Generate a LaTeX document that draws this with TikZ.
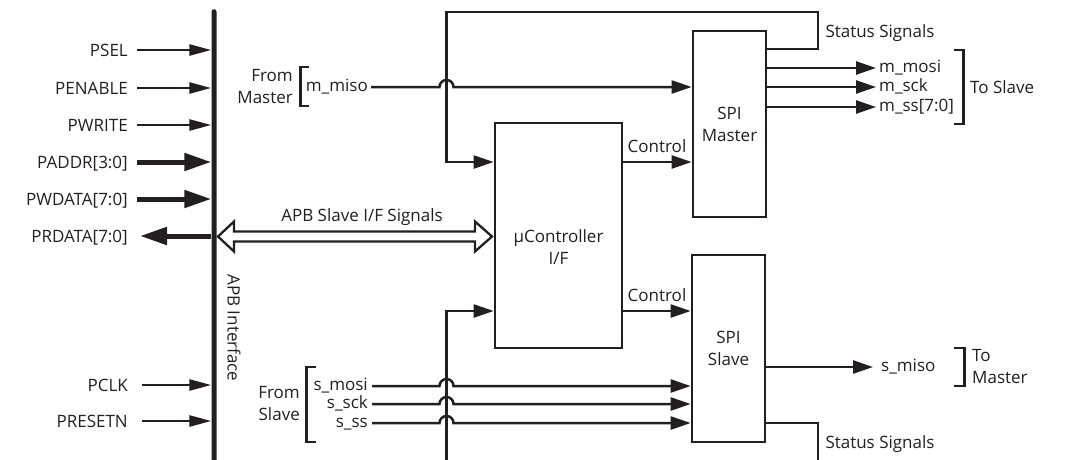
\documentclass[tikz,border=0pt]{standalone}
\usepackage{fontspec}
\setmainfont{Open Sans}
\usetikzlibrary{arrows.meta,calc}
\definecolor{ink}{RGB}{35,31,32}
\begin{document}
\begin{tikzpicture}[x=1pt,y=1pt,
  every node/.style={font=\fontsize{17}{22}\selectfont, text=ink, inner sep=0pt},
  capl/.style={text height=12pt, text depth=0pt},
  lowl/.style={text height=9pt, text depth=0pt},
  wire/.style={draw=ink, line width=2.5pt},
  arr/.style={wire, -{Triangle[length=20pt,width=13pt]}},
  thinarr/.style={draw=ink, line width=2.7pt, -{Triangle[length=22pt,width=11pt]}},
  thickarr/.style={draw=ink, line width=5pt, -{Triangle[length=27pt,width=17pt]}},
  blk/.style={draw=ink, line width=2.7pt},
  brk/.style={draw=ink, line width=2.5pt}]
\useasboundingbox (0,0) rectangle (1065,-459);

% APB bus
\node[fill=ink, minimum width=5pt, minimum height=470pt, anchor=north, rounded corners=2.5pt] (bus) at (214,-9) {};
\node[capl, rotate=-90] (apbif) at (233.5,-328) {APB Interface};

% left signals
\node[capl, anchor=east] (psel) at (128,-50) {PSEL};
\node[capl, anchor=east] (penable) at (128,-88) {PENABLE};
\node[capl, anchor=east] (pwrite) at (128,-125) {PWRITE};
\node[capl, anchor=east] (paddr) at (128,-162) {PADDR[3:0]};
\node[capl, anchor=east] (pwdata) at (128,-199) {PWDATA[7:0]};
\node[capl, anchor=east] (prdata) at (128,-236) {PRDATA[7:0]};
\node[capl, anchor=east] (pclk) at (128,-385) {PCLK};
\node[capl, anchor=east] (presetn) at (128,-421) {PRESETN};

\draw[thinarr, shorten <=9pt] (psel.east) -- (psel.east -| bus.west);
\draw[thinarr, shorten <=9pt] (penable.east) -- (penable.east -| bus.west);
\draw[thinarr, shorten <=9pt] (pwrite.east) -- (pwrite.east -| bus.west);
\draw[thickarr, shorten <=9pt] (paddr.east) -- (paddr.east -| bus.west);
\draw[thickarr, shorten <=9pt] (pwdata.east) -- (pwdata.east -| bus.west);
\draw[thickarr, shorten >=12pt] (prdata.east -| bus.west) -- (prdata.east);
\draw[thinarr, shorten <=14pt] (pclk.east) -- (pclk.east -| bus.west);
\draw[thinarr, shorten <=14pt] (presetn.east) -- (presetn.east -| bus.west);

% blocks
\node[blk, minimum width=127pt, minimum height=225pt] (uc) at (558.5,-235.5) {};
\node[align=center] (uctext) at (558.5,-247) {µController\\I/F};
\node[blk, minimum width=73pt, minimum height=186pt] (spim) at (729.5,-124) {};
\node[align=center] (spimtext) at (spim.center) {SPI\\Master};
\node[blk, minimum width=73pt, minimum height=187pt] (spis) at (728.5,-348.5) {};
\node[align=center] (spistext) at (spis.center) {SPI\\Slave};

% hollow APB slave arrow
\draw[draw=ink, line width=2.3pt, fill=white, line join=miter]
  (218,-236.5) -- (234,-221.5) -- (234,-231.5) -- (475,-231.5) -- (475,-221.5)
  -- (492,-236.5) -- (475,-251.5) -- (475,-241.5) -- (234,-241.5) -- (234,-251.5) -- cycle;
\node[capl] (apbsig) at (362,-215) {APB Slave I/F Signals};

% control
\draw[arr] (uc.east |- 0,-162) -- (spim.west |- 0,-162);
\node[capl] (ctrl1) at (657,-146) {Control};
\draw[arr] (uc.east |- 0,-311) -- (spis.west |- 0,-311);
\node[capl] (ctrl2) at (657,-295) {Control};

% status feedback (top)
\draw[arr] (spim.east |- 0,-49) -- (818,-49) -- (818,-12) -- (446.5,-12) -- (446.5,-162) -- (uc.west |- 0,-162);
\node[capl] (stat1) at (880,-31) {Status Signals};

% master input
\node[lowl, anchor=east] (mmiso) at (368,-87) {m\_miso};
\draw[arr, shorten <=3pt] (mmiso.east) -- (439.5,-87) arc[start angle=180,end angle=0,radius=7] -- (spim.west |- mmiso.east);
\node[align=right, anchor=east] (frommaster) at (293,-87) {From\\Master};
\draw[brk] (309,-67) -- (300.5,-67) -- (300.5,-106) -- (309,-106);

% master outputs
\node[lowl, anchor=west] (mmosi) at (879,-68) {m\_mosi};
\node[lowl, anchor=west] (msck) at (879,-87) {m\_sck};
\node[lowl, anchor=west] (mss) at (879,-107) {m\_ss[7:0]};
\draw[arr, shorten >=3pt] (spim.east |- mmosi.west) -- (mmosi.west);
\draw[arr, shorten >=3pt] (spim.east |- msck.west) -- (msck.west);
\draw[arr, shorten >=3pt] (spim.east |- mss.west) -- (mss.west);
\draw[brk] (954,-50) -- (963.5,-50) -- (963.5,-124) -- (954,-124);
\node[capl, anchor=west] (toslave) at (970,-87) {To Slave};

% slave side feedback
\draw[arr] (446.5,-470) -- (446.5,-311) -- (uc.west |- 0,-311);

% slave inputs
\node[lowl, anchor=east] (smosi) at (368,-386) {s\_mosi};
\node[lowl, anchor=east] (ssck) at (368,-404) {s\_sck};
\node[lowl, anchor=east] (sss) at (368,-423) {s\_ss};
\draw[arr, shorten <=4pt] (smosi.east) -- (439.5,-386) arc[start angle=180,end angle=0,radius=7] -- (spis.west |- smosi.east);
\draw[arr, shorten <=4pt] (ssck.east) -- (439.5,-404) arc[start angle=180,end angle=0,radius=7] -- (spis.west |- ssck.east);
\draw[arr, shorten <=4pt] (sss.east) -- (439.5,-423) arc[start angle=180,end angle=0,radius=7] -- (spis.west |- sss.east);
\node[align=right, anchor=east] (fromslave) at (300,-404) {From\\Slave};
\draw[brk] (316,-367) -- (306.5,-367) -- (306.5,-442) -- (316,-442);

% slave output
\node[lowl, anchor=west] (smiso) at (881,-367) {s\_miso};
\draw[arr, shorten >=8pt] (spis.east |- smiso.west) -- (smiso.west);
\draw[brk] (954,-348) -- (964.5,-348) -- (964.5,-386) -- (954,-386);
\node[align=left, anchor=west] (tomaster) at (972,-367) {To\\Master};

% status (bottom)
\draw[wire] (spis.east |- 0,-423) -- (818,-423) -- (818,-470);
\node[capl] (stat2) at (880,-442) {Status Signals};
\end{tikzpicture}
\end{document}
